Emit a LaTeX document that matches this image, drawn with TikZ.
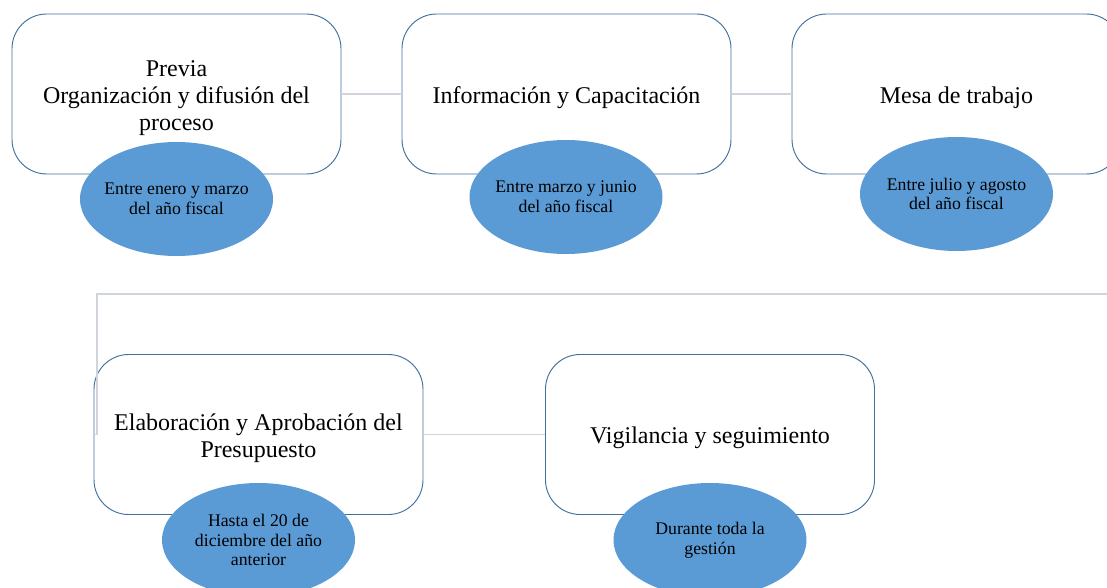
\documentclass[tikz,border=0pt]{standalone}
\usepackage{fontspec}
\setmainfont{Liberation Serif}
\usepackage{tikz}
\usetikzlibrary{shapes.geometric}
\definecolor{borde}{RGB}{65,113,156}
\definecolor{azul}{RGB}{91,155,213}
\definecolor{gris}{RGB}{208,213,219}
\newcommand{\alza}{\rule{0pt}{17.5pt}}

\begin{document}
\begin{tikzpicture}[x=0.75pt,y=-0.75pt,
  etapa/.style={rectangle,rounded corners=26pt,draw=borde,line width=0.7pt,fill=white,
    minimum width=246.75pt,minimum height=120pt,align=center,inner sep=0pt,
    font=\fontsize{18}{20.25}\selectfont},
  fecha/.style={ellipse,fill=azul,minimum width=144.75pt,minimum height=85.5pt,
    align=center,inner xsep=-6pt,inner ysep=0pt,font=\fontsize{13.3}{14.8}\selectfont},
  enlace/.style={draw=gris,line width=1.1pt}]
\useasboundingbox (0,0) rectangle (1107,588);
\clip (0,0) rectangle (1107,588);

\node[etapa] (prev) at (176.5,94) {\alza Previa\\Organización y difusión del\\proceso};
\node[etapa] (info) at (566.5,94) {\alza Información y Capacitación};
\node[etapa] (mesa) at (956.5,94) {\alza Mesa de trabajo};
\node[etapa] (elab) at (258.5,434.5) {\alza Elaboración y Aprobación del\\Presupuesto};
\node[etapa] (vigi) at (710,434.5) {\alza Vigilancia y seguimiento};

\coordinate (wrap) at (1120,294);
\coordinate (codo) at (97,294);
\draw[enlace] (prev.east) -- (info.west);
\draw[enlace] (info.east) -- (mesa.west);
\draw[enlace] (wrap) -- (codo) |- (elab.west);
\draw[enlace] (elab.east) -- (vigi.west);

\node[fecha] (fprev) at (176.5,199) {Entre enero y marzo\\del año fiscal};
\node[fecha] (finfo) at (566,197) {Entre marzo y junio\\del año fiscal};
\node[fecha] (fmesa) at (956.5,194) {Entre julio y agosto\\del año fiscal};
\node[fecha] (felab) at (258.5,540) {Hasta el 20 de\\diciembre del año\\anterior};
\node[fecha] (fvigi) at (710,540) {Durante toda la\\gestión};
\end{tikzpicture}
\end{document}
